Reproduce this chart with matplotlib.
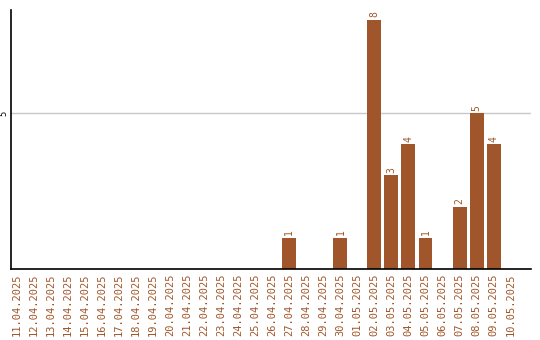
import matplotlib
matplotlib.use('Agg')
from matplotlib import pyplot as plt

dates = ['11.04.2025', '12.04.2025', '13.04.2025', '14.04.2025', '15.04.2025',
         '16.04.2025', '17.04.2025', '18.04.2025', '19.04.2025', '20.04.2025',
         '21.04.2025', '22.04.2025', '23.04.2025', '24.04.2025', '25.04.2025',
         '26.04.2025', '27.04.2025', '28.04.2025', '29.04.2025', '30.04.2025',
         '01.05.2025', '02.05.2025', '03.05.2025', '04.05.2025', '05.05.2025',
         '06.05.2025', '07.05.2025', '08.05.2025', '09.05.2025', '10.05.2025']
counts = [0, 0, 0, 0, 0, 0, 0, 0, 0, 0, 0, 0, 0, 0, 0, 0,
          1, 0, 0, 1, 0, 8, 3, 4, 1, 0, 2, 5, 4, 0]

brown = '#A0562A'

fig = plt.figure(figsize=(5.4, 3.4), dpi=100)
ax = fig.add_axes([0.0204, 0.209, 0.963, 0.761])

x = list(range(len(dates)))
bars = ax.bar(x, counts, width=0.82, color=brown, zorder=2)

#label di atas batang
for xi, v in zip(x, counts):
    if v > 0:
        ax.text(xi, v + 0.08, str(v), rotation=90, ha='center', va='bottom',
                color=brown, fontsize=7, family='DejaVu Sans Mono')

ax.set_xlim(-0.35, 30.2)
ax.set_ylim(0, 8.3)
ax.set_yticks([5])
ax.set_yticklabels(['5'], rotation=90, va='center', fontsize=6)
ax.yaxis.grid(True, color='#c8c8c8', linewidth=1, zorder=0)
ax.set_xticks(x)
ax.set_xticklabels(dates, rotation=90, color=brown, fontsize=7.5,
                   family='DejaVu Sans Mono')
ax.tick_params(length=0, pad=3)
ax.tick_params(axis='y', pad=2)

ax.spines['top'].set_visible(False)
ax.spines['right'].set_visible(False)
ax.spines['left'].set_linewidth(1.2)
ax.spines['bottom'].set_linewidth(1.2)

plt.savefig('out.png', dpi=100)
